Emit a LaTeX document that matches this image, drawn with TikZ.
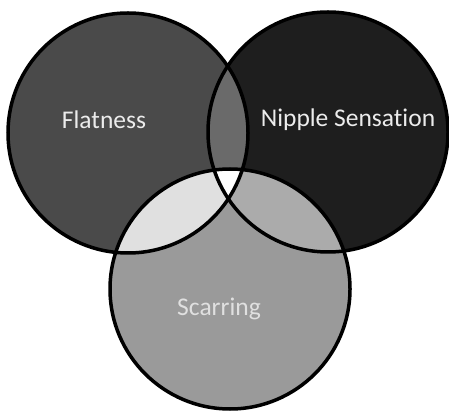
\documentclass[tikz,border=0pt]{standalone}
\usepackage{fontspec}
\setmainfont[Ligatures=NoCommon]{Carlito}
\definecolor{cL}{HTML}{4A4A4A}
\definecolor{cR}{HTML}{1E1E1E}
\definecolor{cB}{HTML}{9A9A9A}
\definecolor{cLR}{HTML}{6A6A6A}
\definecolor{cLB}{HTML}{E0E0E0}
\definecolor{cRB}{HTML}{ABABAB}
\definecolor{txt}{HTML}{ECECEC}
\begin{document}
\begin{tikzpicture}[x=1pt,y=-1pt,
  ring/.style={draw=black,line width=3.5pt},
  lbl/.style={text=txt,font=\fontsize{25.5}{28}\selectfont,inner sep=0pt}]
\useasboundingbox (0,0) rectangle (449,411);
\def\rad{120}
\coordinate (L) at (128,133);
\coordinate (R) at (328,132);
\coordinate (B) at (230,289);
\fill[cL] (L) circle (\rad);
\fill[cR] (R) circle (\rad);
\fill[cB] (B) circle (\rad);
\begin{scope}
  \clip (L) circle (\rad);
  \fill[cLR] (R) circle (\rad);
  \fill[cLB] (B) circle (\rad);
\end{scope}
\begin{scope}
  \clip (R) circle (\rad);
  \fill[cRB] (B) circle (\rad);
\end{scope}
\begin{scope}
  \clip (L) circle (\rad);
  \clip (R) circle (\rad);
  \fill[white] (B) circle (\rad);
\end{scope}
\draw[ring] (L) circle (\rad);
\draw[ring] (R) circle (\rad);
\draw[ring] (B) circle (\rad);
\node[lbl] (flat) at (104,120) {Flatness};
\node[lbl] (nip) at (348,120) {Nipple Sensation};
\node[lbl,text=cLB] (scar) at (219,309) {Scarring};
\end{tikzpicture}
\end{document}
